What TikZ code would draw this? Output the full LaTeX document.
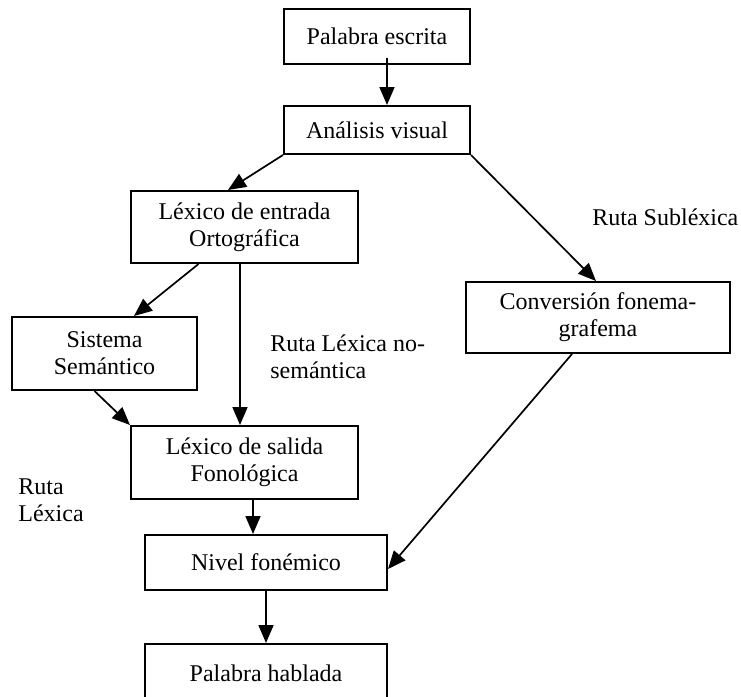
\documentclass[tikz,border=0pt]{standalone}
\usepackage{fontspec}
\setmainfont{Liberation Serif}
\usetikzlibrary{arrows.meta}
\begin{document}
\begin{tikzpicture}
[x=0.5pt, y=-0.5pt, font=\fontsize{12}{13.5}\selectfont,
caja/.style={draw, line width=1pt, align=center, inner sep=0pt},
flecha/.style={line width=0.85pt, -{Triangle[width=7.5pt,length=9pt]}}]
\useasboundingbox (0,0) rectangle (741,697);
\node [caja, minimum width=93pt, minimum height=27.5pt] (escrita) at (377,36.5) {Palabra escrita};
\node [caja, minimum width=93pt, minimum height=24pt] (analisis) at (377,130) {Análisis visual};
\node [caja, minimum width=113.5pt, minimum height=36pt] (entrada) at (244.5,227) {Léxico de entrada\\Ortográfica};
\node [caja, minimum width=92.5pt, minimum height=36.5pt] (sistema) at (104.5,353.5) {Sistema\\Semántico};
\node [caja, minimum width=132pt, minimum height=35.5pt] (conversion) at (598,317.5) {Conversión fonema-\\grafema};
\node [caja, minimum width=113.5pt, minimum height=36.5pt] (salida) at (244.5,462.5) {Léxico de salida\\Fonológica};
\node [caja, minimum width=121pt, minimum height=27.5pt] (nivel) at (266,562.5) {Nivel fonémico};
\node [caja, minimum width=121pt, minimum height=29pt] (hablada) at (266,673) {Palabra hablada};
% etiquetas de las rutas
\node [anchor=west, inner sep=0pt] (sublexica) at (592,217) {Ruta Subléxica};
\node [anchor=west, inner sep=0pt, align=left] (nosemantica) at (270,356.5) {Ruta Léxica no-\\semántica};
\node [anchor=west, inner sep=0pt, align=left] (lexica) at (18,500.5) {Ruta\\Léxica};
% flechas
\draw [flecha] ([xshift=5pt, yshift=3.5pt]escrita.south) -- ([xshift=5pt]analisis.north);
\draw [flecha] (analisis.south west) -- ([xshift=-8.25pt]entrada.north);
\draw [flecha] (analisis.south east) -- ([xshift=-1pt]conversion.north);
\draw [flecha] ([xshift=-23pt]entrada.south) -- ([xshift=14.75pt]sistema.north);
\draw [flecha] ([xshift=-2.25pt]entrada.south) -- ([xshift=-2.25pt]salida.north);
\draw [flecha] ([xshift=-5pt]sistema.south) -- (salida.north west);
\draw [flecha] ([xshift=4.25pt]salida.south) -- ([xshift=4.25pt]salida.south |- nivel.north);
\draw [flecha] ([xshift=-13pt]conversion.south) -- ([yshift=-3.25pt]nivel.east);
\draw [flecha] (nivel.south) -- (hablada.north);
\end{tikzpicture}
\end{document}
